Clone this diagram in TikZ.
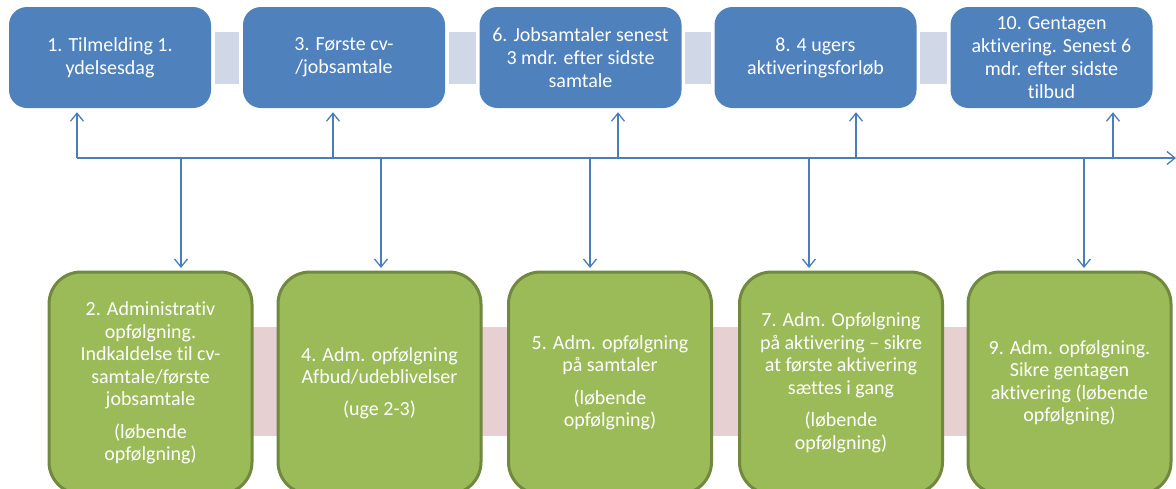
\documentclass[tikz,border=0pt]{standalone}
\usepackage{fontspec}
\setmainfont{Carlito}[Ligatures=NoCommon]
\usetikzlibrary{arrows.meta}
\definecolor{boxblue}{HTML}{4F81BD}
\definecolor{lineblue}{HTML}{4A7EBB}
\definecolor{linkgray}{HTML}{D0D8E8}
\definecolor{boxgreen}{HTML}{9BBB59}
\definecolor{greenrim}{HTML}{71893F}
\definecolor{bandpink}{HTML}{E6D0D2}

\begin{document}
\begin{tikzpicture}[x=1pt, y=-1pt,
	topbox/.style={fill=boxblue, rounded corners=18pt, minimum width=202pt, minimum height=101pt,
		inner sep=0pt, text=white, align=center, font=\fontsize{20}{23}\selectfont},
	lowbox/.style={fill=boxgreen, draw=greenrim, line width=3pt, rounded corners=32pt,
		minimum width=203pt, minimum height=222pt, inner sep=0pt, text=white, align=center,
		font=\fontsize{20}{22.5}\selectfont},
	link/.style={lineblue, line width=1.3pt, -{Straight Barb[length=8pt,width=13pt]}}]
		\useasboundingbox (0,0) rectangle (1176,488);
		\clip (0,0) rectangle (1176,488);

		% top row
		\node[topbox] (t1) at (110,57.5) {1. Tilmelding 1.\\ydelsesdag};
		\node[topbox] (t2) at (344,57.5) {3. Første cv-\\/jobsamtale};
		\node[topbox] (t3) at (580.5,57.5) {6. Jobsamtaler senest\\3 mdr. efter sidste\\samtale};
		\node[topbox] (t4) at (815.5,57.5) {8. 4 ugers\\aktiveringsforløb};
		\node[topbox] (t5) at (1051.5,57.5) {10. Gentagen\\aktivering. Senest 6\\mdr. efter sidste\\tilbud};
		\foreach \a/\b in {t1/t2, t2/t3, t3/t4, t4/t5}
			\fill[linkgray] ([xshift=3.5pt]\a.east |- 0,32) rectangle ([xshift=-3.5pt]\b.west |- 0,84);

		% bottom row
		\fill[bandpink] (252,327) rectangle (971,436);
		\node[lowbox] (b1) at (150.5,383) {2. Administrativ\\opfølgning.\\Indkaldelse til cv-\\samtale/første\\jobsamtale\\[10pt](løbende\\opfølgning)};
		\node[lowbox] (b2) at (379.5,383) {4. Adm. opfølgning\\Afbud/udeblivelser\\[9pt](uge 2-3)};
		\node[lowbox] (b3) at (610,383) {5. Adm. opfølgning\\på samtaler\\[10pt](løbende\\opfølgning)};
		\node[lowbox] (b4) at (841,383) {7. Adm. Opfølgning\\på aktivering – sikre\\at første aktivering\\sættes i gang\\[10pt](løbende\\opfølgning)};
		\node[lowbox] (b5) at (1069.5,383) {9. Adm. opfølgning.\\Sikre gentagen\\aktivering (løbende\\opfølgning)};

		% time line
		\coordinate (start) at (77,158);
		\coordinate (end) at (1176,158);
		\draw[link] (start) -- (end);
		\foreach \x [count=\i] in {77, 333, 618, 856, 1113} {
			\coordinate (u\i) at (\x,158);
			\draw[link, shorten >=4pt] (u\i) -- (u\i |- t\i.south);
		}
		\foreach \x [count=\i] in {181, 381, 590, 809, 1084} {
			\coordinate (d\i) at (\x,158);
			\draw[link, shorten >=2.5pt] (d\i) -- (d\i |- b\i.north);
		}
	\end{tikzpicture}
\end{document}
